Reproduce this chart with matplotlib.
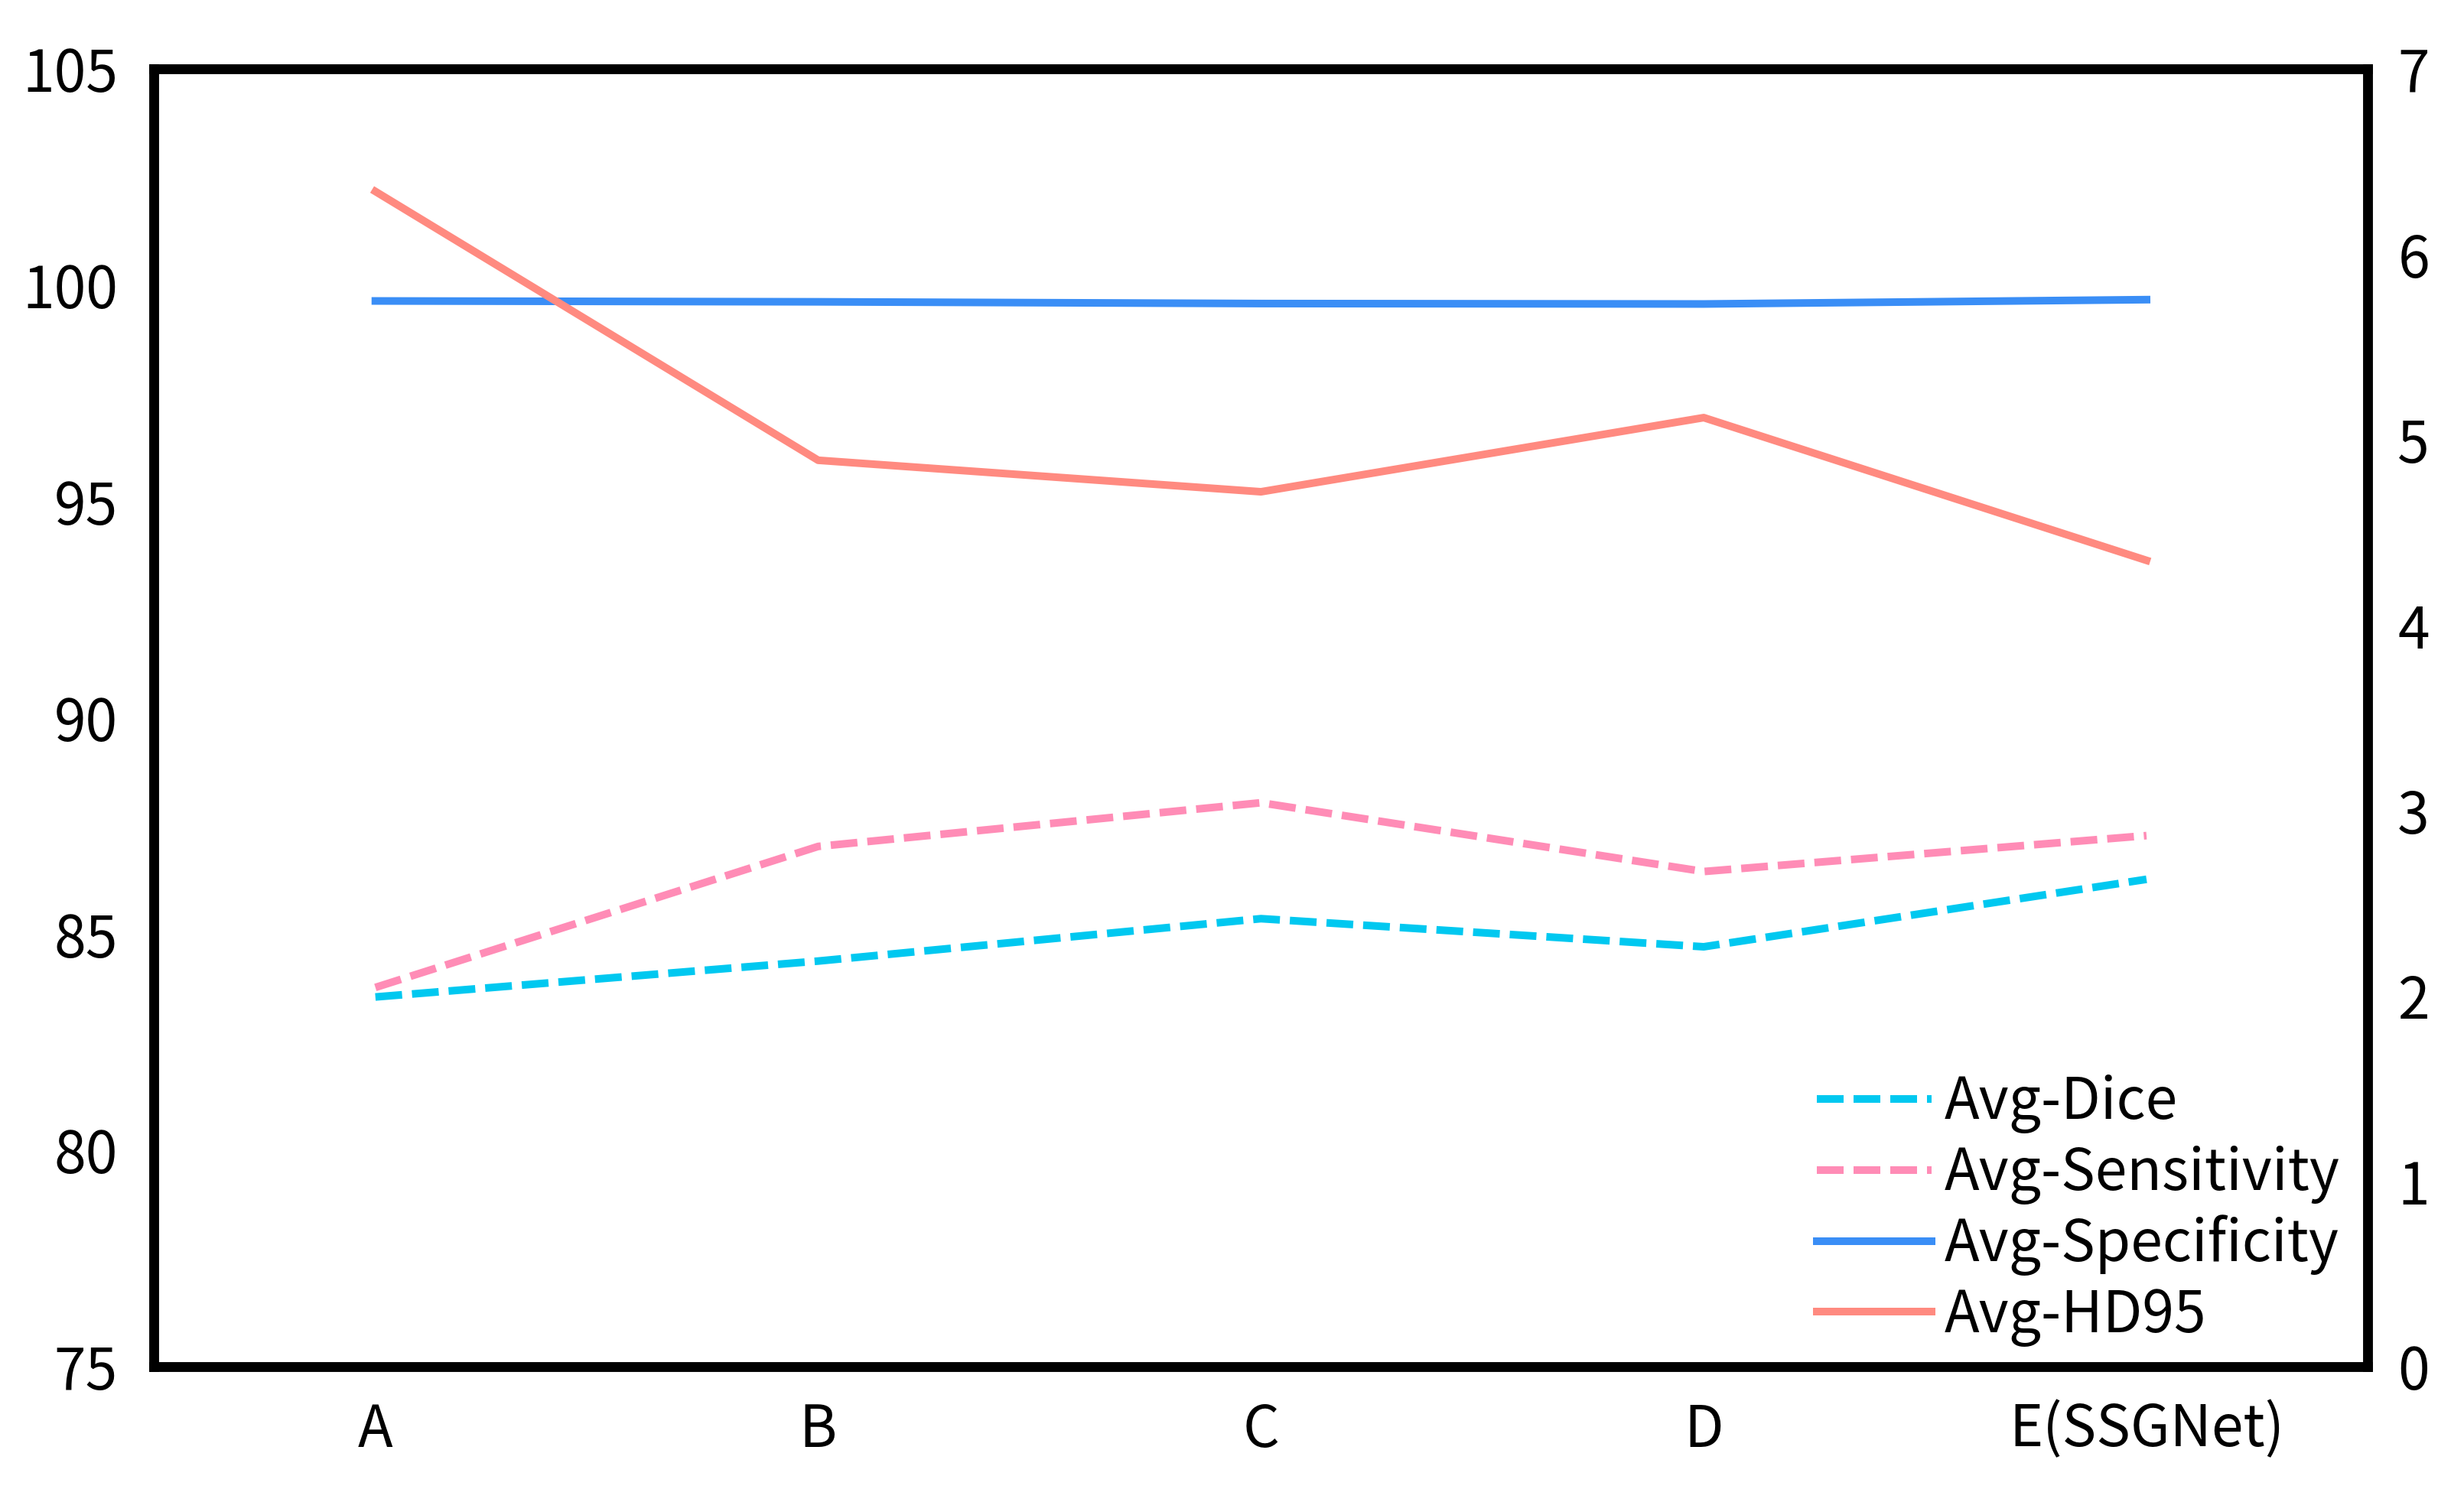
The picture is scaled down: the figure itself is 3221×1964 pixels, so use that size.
import matplotlib
matplotlib.use('Agg')
import matplotlib.pyplot as plt

plt.rcParams['font.family'] = ['Noto Sans CJK SC', 'DejaVu Sans']

models = ['A', 'B', 'C', 'D', 'E(SSGNet)']
dice = [83.55, 84.38, 85.36, 84.71, 86.27]
sensitivity = [83.77, 87.03, 88.04, 86.45, 87.28]
specificity = [99.64, 99.62, 99.58, 99.57, 99.67]
hd95 = [6.34, 4.89, 4.72, 5.12, 4.35]

fig = plt.figure(figsize=(16.105, 9.82), dpi=200)
ax = fig.add_axes([0.0625, 0.09, 0.8985, 0.864])
ax2 = ax.twinx()

x = range(len(models))
lw = 3.6
dash = (0, (3.5, 1.3))
l1, = ax.plot(x, dice, color='#00C8F0', lw=lw, ls=dash, label='Avg-Dice')
l2, = ax.plot(x, sensitivity, color='#FF8CB6', lw=lw, ls=dash, label='Avg-Sensitivity')
l3, = ax.plot(x, specificity, color='#3A8EF6', lw=lw, label='Avg-Specificity')
l4, = ax2.plot(x, hd95, color='#FF8A80', lw=lw, label='Avg-HD95')

ax.set_xlim(-0.5, 4.5)
ax.set_ylim(75, 105)
ax.set_yticks([75, 80, 85, 90, 95, 100, 105])
ax2.set_ylim(0, 7)
ax2.set_yticks(range(8))
ax.set_xticks(list(x))
ax.set_xticklabels(models)

for a in (ax, ax2):
    a.tick_params(length=0, labelsize=27)
    for s in a.spines.values():
        s.set_linewidth(4.5)
        s.set_color('black')
ax.tick_params(axis='y', pad=17)
ax.tick_params(axis='x', pad=16)
ax2.tick_params(axis='y', pad=14)

ax2.legend([l1, l2, l3, l4], ['Avg-Dice', 'Avg-Sensitivity', 'Avg-Specificity', 'Avg-HD95'],
           loc='lower right', bbox_to_anchor=(1.004, -0.013), frameon=False, fontsize=27,
           handlelength=2.0, handletextpad=0.22, labelspacing=0.18, borderaxespad=0.25)

fig.savefig('out.png', dpi=200)
